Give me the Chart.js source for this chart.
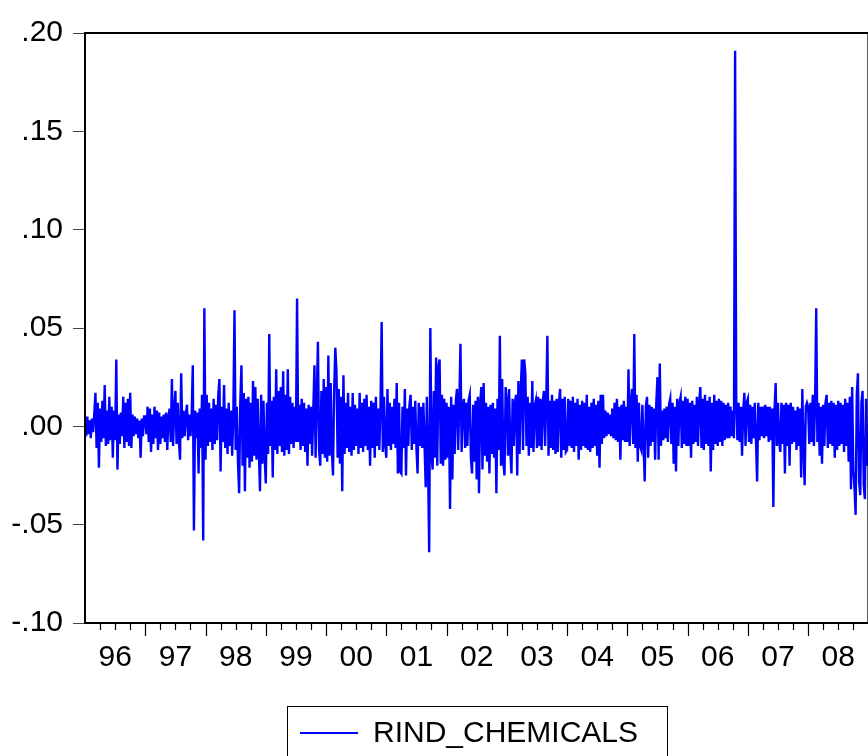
<!DOCTYPE html>
<html>
<head>
<meta charset="utf-8">
<script src="https://cdn.jsdelivr.net/npm/chart.js@4.4.1/dist/chart.umd.min.js"></script>
<style>
  html, body { margin: 0; padding: 0; background: #fff; overflow: hidden; }
  #wrap { width: 868px; height: 756px; overflow: hidden; }
</style>
</head>
<body>
<div id="wrap"><canvas id="c" width="872" height="756"></canvas></div>
<script>
const seriesName = 'RIND_CHEMICALS';
const years = [1996, 1997, 1998, 1999, 2000, 2001, 2002, 2003, 2004, 2005, 2006, 2007, 2008];
const yearLabels = ['96', '97', '98', '99', '00', '01', '02', '03', '04', '05', '06', '07', '08'];
const yTicks = [-0.10, -0.05, 0, 0.05, 0.10, 0.15, 0.20];
const yTickLabels = ['-.10', '-.05', '.00', '.05', '.10', '.15', '.20'];

// weekly returns, one array per year
const r1996 = [.004, -.005, .005, -.004, .003, -.006, .004, -.003, .006,
  .017, -.011, .012, -.021, .009, -.008, .013, -.006,
  .021, -.010, .008, -.009, .015, -.007, .010, -.016, .008, -.007,
  .034, -.022, .006, -.009, .007, -.005,
  .015, -.011, .012, -.008, .014, -.010, .017, -.011, .006, -.005,
  .005, -.004, .004, -.006, .003, -.016, .004, -.005, .005];
const r1997 = [.005, -.004,
  .010, -.008, .009, -.013, .006, -.009, .010, -.006, .008, -.012, .007, -.009,
  .005, -.006, .006, -.008, .007, -.012, .005, .009, -.008, .024, -.010, .008, .018, -.009, .012, -.007,
  -.017, .027, -.006, .008, -.005, .006, .011, -.007, .006, -.005, .004,
  .031, -.053, .008, -.006, .007, -.024, .009, -.011, .016, -.058, .060];
const r1998 = [-.017, .016, -.010, .012, -.008,
  .009, -.012, .014, -.009, .011, -.007, .016,
  .024, -.023, .010, -.008, .021, -.011, .009, -.014, .012, -.010, .008, -.015, .006,
  .059, -.012, .010, -.018, -.034, .012, .031, -.020, .017, -.033, .014, -.016,
  .015, -.021, .012, -.018, .023, -.015, .020, -.017, .014, -.012, -.033, .016, -.019, .013, -.015];
const r1999 = [-.029, .012, -.014, .047, -.010, .013, -.026, .015, -.012, .029,
  -.014, .018, -.010, .020, -.013, .028, -.015, .016, -.012, .029, -.014, .015, -.009,
  .012, -.011, .010, -.008, .065, -.008, .011,
  -.012, .014, -.010, .012, -.013, .009, -.020, .011, -.009, .010, -.015, .008,
  .031, -.016, .014, .043, -.012, -.020, .018, -.014, .024, -.016];
const r2000 = [.020, -.018, .036, -.015, .022, -.012, -.025, .018, .040, .028,
  -.016, .019, -.019, .015, -.033, .026, -.014, .012, -.011, .017,
  -.013, .010, -.015, .017, -.012, .011, -.010, .009, -.014, .017,
  -.011, .012, -.013, .014, -.010, .016, -.012, .010, -.020, .013,
  -.011, .012, -.016, .015, -.010, .009, -.012, .011, .053, -.013, .015, -.009];
const r2001 = [-.016, .019, -.010, .012, -.012, .010, -.009, .014, -.011, .022,
  -.024, .012, -.023, -.024, .010, -.011, .019, -.025, .009, -.010,
  .011, .016, -.012, .010, -.009, .013, -.011, -.024, .012, -.010,
  .010, -.011, .012, -.009, -.031, .015, -.018, -.064, .050, -.014,
  -.022, .018, -.016, .035, -.020, .030, .034, -.019, .016, -.020, .014, -.017];
const r2002 = [.012, -.016, .010, -.042, .015, -.027, .011, -.014, .013, .019,
  -.012, .011, .042, -.013, .010, .014, -.011, .012, -.010, .013,
  .016, -.016, -.024, .011, -.018, .013, -.027, .015, -.034, .012,
  .020, -.022, .022, -.015, .012, -.018, .010, -.024, .011, -.014,
  .012, -.016, .009, -.034, .014, -.012, .046, -.020, .024, -.018, -.025, .020];
const r2003 = [.013, -.015, .019, -.012, -.024, .014, -.010, .012, .016, -.025,
  .023, -.014, .018, .034, -.012, .034, .027, -.010, .015, -.015,
  .012, -.011, .023, -.013, .010, .013, -.011, .015, -.010, .014,
  -.012, .012, .018, -.010, .012, .046, -.015, .013, -.011, .016,
  -.012, .013, -.014, .014, -.013, .012, .019, -.016, .014, -.012, .015, -.013];
const r2004 = [-.012, .014, -.010, .013, -.011, .015, -.013, .012, -.010, .014,
  -.017, .011, -.012, .013, -.010, .012, -.011, .016, -.012, .010,
  -.013, .012, -.011, .014, -.010, .011, -.015, .013, -.021, .016,
  -.009, .016, -.006, .008, -.005, .007, -.004, .006, -.005, .009,
  -.006, .012, -.007, .014, -.008, .010, -.017, .011, -.007, .013, -.008, .010];
const r2005 = [-.008, .029, -.010, .012, .019, -.009, .047, -.011, .016, -.018,
  .012, -.010, -.012, .011, -.009, -.028, .010, .015, -.016, .011,
  -.010, .010, -.008, .009, -.017, .012, .025, -.017, .032, -.010,
  .008, -.007, .009, -.006, .010, -.008, .011, .014, -.009, .012,
  -.019, .010, -.023, .014, -.010, .012, .015, -.011, .013, -.009, .015, -.010];
const r2006 = [.014, -.010, .012, -.016, .013, -.009, .011, -.008, .015, -.010,
  .012, .020, -.011, .014, -.012, .016, -.009, .013, -.010, .015,
  -.023, .012, -.012, .016, -.009, .013, -.010, .014, -.008, .013,
  -.010, .012, -.007, .011, -.006, .012, -.006, .010, -.005, .008,
  -.006, .191, .009, -.007, .012, -.008, .010, -.015, .008, .017, -.010, .012];
const r2007 = [.014, -.008, .011, -.009, .010, -.006, .012, -.007, -.028, .012,
  -.007, .010, -.005, .010, -.006, .011, -.005, .010, -.008, .010,
  -.007, .009, -.041, .008, .022, -.010, .012, -.008, -.013, .012,
  -.009, .011, -.024, .012, -.010, .011, -.020, .012, -.009, .010,
  -.008, .008, -.012, .010, -.010, .009, -.026, .019, -.011, -.030, .010, .012];
const r2008 = [.010, -.009, .012, -.008, .016, -.010, .011, .060, -.008, .012,
  -.015, .010, -.019, .011, -.010, .012, .016, -.011, .012, -.009,
  .013, -.010, .012, -.016, .011, -.012, .013, -.010, .012, -.009,
  .011, -.013, .014, -.010, .012, -.018, .015, -.032, .020, -.022,
  -.031, -.045, .016, .027, -.028, -.035, .012, .018, -.030, -.037, .014, -.020];

const returnsByYear = [r1996, r1997, r1998, r1999, r2000, r2001, r2002,
  r2003, r2004, r2005, r2006, r2007, r2008];

// spread each year's observations evenly over the year
const points = [];
years.forEach((yr, k) => {
  const vals = returnsByYear[k];
  vals.forEach((v, i) => points.push({ x: yr + i / vals.length, y: v }));
});

const FONT = "'Liberation Sans', Arial, sans-serif";

// box frame, quarterly ticks on the date axis and the boxed legend
const eviewsFrame = {
  id: 'eviewsFrame',
  afterDraw(chart) {
    const { ctx, chartArea: a, scales } = chart;
    const xs = scales.x;
    ctx.save();
    ctx.strokeStyle = '#000';
    ctx.lineWidth = 2;
    ctx.strokeRect(a.left, a.top, a.right - a.left, a.bottom - a.top);

    ctx.lineWidth = 1.2;
    ctx.beginPath();
    years.forEach(yr => {
      for (let q = 0; q < 4; q++) {
        const v = yr + q / 4;
        if (v === years[0]) continue;
        const px = Math.round(xs.getPixelForValue(v)) + 0.5;
        ctx.moveTo(px, a.bottom);
        ctx.lineTo(px, a.bottom + (q === 0 ? 13 : 7));
      }
    });
    ctx.stroke();

    // legend
    ctx.strokeStyle = '#000';
    ctx.lineWidth = 1;
    ctx.strokeRect(287.5, 706.5, 380, 60);
    ctx.strokeStyle = '#0000ff';
    ctx.lineWidth = 2;
    ctx.beginPath();
    ctx.moveTo(300, 733);
    ctx.lineTo(358, 733);
    ctx.stroke();
    ctx.fillStyle = '#000';
    ctx.font = '30px ' + FONT;
    ctx.textBaseline = 'middle';
    ctx.textAlign = 'left';
    ctx.fillText(chart.data.datasets[0].label, 373, 734);
    ctx.restore();
  }
};

new Chart(document.getElementById('c'), {
  type: 'line',
  data: {
    datasets: [{
      label: seriesName,
      data: points,
      borderColor: '#0000ff',
      borderWidth: 2.4,
      pointRadius: 0,
      tension: 0,
      fill: false
    }]
  },
  options: {
    responsive: false,
    animation: false,
    events: [],
    layout: { padding: { top: 33, right: 2, left: 0, bottom: 0 } },
    plugins: { legend: { display: false }, tooltip: { enabled: false } },
    scales: {
      x: {
        type: 'linear',
        min: 1996,
        max: 2009,
        afterFit: s => { s.height = 133; },
        afterBuildTicks: s => { s.ticks = years.map(y => ({ value: y + 0.5 })); },
        ticks: {
          callback: (v, i) => yearLabels[i],
          autoSkip: false,
          maxRotation: 0,
          padding: 17,
          color: '#000',
          font: { family: FONT, size: 30 }
        },
        grid: { display: false, drawTicks: false },
        border: { display: true, color: '#000', width: 2 }
      },
      y: {
        min: -0.10,
        max: 0.20,
        afterFit: s => { s.width = 85; },
        afterBuildTicks: s => { s.ticks = yTicks.map(v => ({ value: v })); },
        ticks: {
          callback: (v, i) => yTickLabels[i],
          padding: 10,
          color: '#000',
          font: { family: FONT, size: 30 }
        },
        grid: { drawOnChartArea: false, drawTicks: true, tickLength: 12, color: '#444', lineWidth: 1 },
        border: { display: true, color: '#000', width: 2 }
      }
    }
  },
  plugins: [eviewsFrame]
});
</script>
</body>
</html>
